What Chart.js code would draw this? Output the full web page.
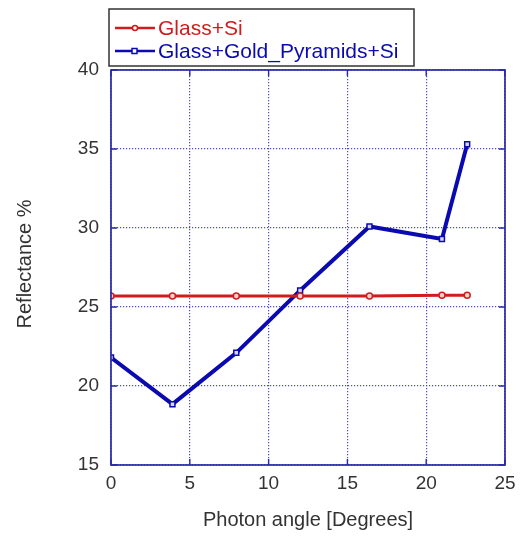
<!DOCTYPE html>
<html>
<head>
<meta charset="utf-8">
<script src="https://cdn.jsdelivr.net/npm/chart.js@4.4.1/dist/chart.umd.min.js"></script>
<style>
  html, body { margin: 0; padding: 0; background: #ffffff; }
  #wrap { width: 528px; height: 541px; position: relative; }
</style>
</head>
<body>
<div id="wrap"><canvas id="c" width="528" height="541"></canvas></div>
<script>
// Photon angle (degrees) for each measurement
const anglesGlassSi = [0, 3.9, 7.95, 12.0, 16.4, 21.0, 22.6];
const anglesPyramids = [0, 3.9, 7.95, 12.0, 16.4, 21.0, 22.6];
// Reflectance (%)
const reflGlassSi = [25.7, 25.7, 25.7, 25.7, 25.7, 25.75, 25.75];
const reflPyramids = [21.8, 18.85, 22.1, 26.05, 30.1, 29.3, 35.3];
// Axis settings
const xTicks = [0, 5, 10, 15, 20, 25];
const yTicks = [15, 20, 25, 30, 35, 40];
const seriesLabels = ['Glass+Si', 'Glass+Gold_Pyramids+Si'];
const xTitle = 'Photon angle [Degrees]';
const yTitle = 'Reflectance %';

const FONT = '"Liberation Sans", Arial, sans-serif';
const RED = '#d01c1c';
const BLUE = '#0a0ab0';
const FRAME = '#2a2aa8';
const GRID = '#4c4cc4';

function toPoints(xs, ys) { return xs.map((x, i) => ({ x: x, y: ys[i] })); }

// Frame box, inward tick marks and axis titles
const framePlugin = {
  id: 'frame',
  afterDatasetsDraw(chart) {
    const { ctx, chartArea: a, scales } = chart;
    ctx.save();
    ctx.strokeStyle = FRAME;
    ctx.lineWidth = 1.7;
    ctx.strokeRect(a.left, a.top, a.right - a.left, a.bottom - a.top);
    ctx.lineWidth = 1.4;
    const tl = 6;
    xTicks.forEach(v => {
      const px = scales.x.getPixelForValue(v);
      ctx.beginPath();
      ctx.moveTo(px, a.bottom); ctx.lineTo(px, a.bottom - tl);
      ctx.moveTo(px, a.top); ctx.lineTo(px, a.top + tl);
      ctx.stroke();
    });
    yTicks.forEach(v => {
      const py = scales.y.getPixelForValue(v);
      ctx.beginPath();
      ctx.moveTo(a.left, py); ctx.lineTo(a.left + tl, py);
      ctx.moveTo(a.right, py); ctx.lineTo(a.right - tl, py);
      ctx.stroke();
    });
    ctx.restore();
  },
  afterDraw(chart) {
    const { ctx, chartArea: a } = chart;
    ctx.save();
    ctx.fillStyle = '#333333';
    ctx.font = '20px ' + FONT;
    ctx.textAlign = 'center';
    ctx.textBaseline = 'middle';
    ctx.fillText(xTitle, (a.left + a.right) / 2, 520);
    ctx.translate(25, 264);
    ctx.rotate(-Math.PI / 2);
    ctx.fillText(yTitle, 0, 0);
    ctx.restore();
  }
};

// Boxed legend in the top-left corner
const boxLegendPlugin = {
  id: 'boxLegend',
  afterDraw(chart) {
    const { ctx } = chart;
    const ds = chart.data.datasets;
    const bx = 109, by = 9, bw = 305, bh = 57;
    ctx.save();
    ctx.fillStyle = '#ffffff';
    ctx.fillRect(bx, by, bw, bh);
    ctx.strokeStyle = '#333333';
    ctx.lineWidth = 1.5;
    ctx.strokeRect(bx, by, bw, bh);
    ctx.font = '21px ' + FONT;
    ctx.textBaseline = 'middle';
    ds.forEach((d, i) => {
      const y = 28 + i * 23;
      ctx.strokeStyle = d.borderColor;
      ctx.lineWidth = 2.5;
      ctx.beginPath();
      ctx.moveTo(115, y); ctx.lineTo(155, y);
      ctx.stroke();
      ctx.lineWidth = 1.5;
      ctx.fillStyle = '#ffffff';
      if (d.pointStyle === 'rect') {
        ctx.fillRect(132, y - 2.5, 5, 5);
        ctx.strokeRect(132, y - 2.5, 5, 5);
      } else {
        ctx.beginPath(); ctx.arc(135, y, 2.5, 0, Math.PI * 2); ctx.fill(); ctx.stroke();
      }
      ctx.fillStyle = d.borderColor;
      ctx.fillText(d.label, 158, y + 1);
    });
    ctx.restore();
  }
};

new Chart(document.getElementById('c'), {
  type: 'line',
  data: {
    datasets: [
      {
        label: seriesLabels[0],
        data: toPoints(anglesGlassSi, reflGlassSi),
        borderColor: RED,
        backgroundColor: RED,
        borderWidth: 3,
        pointStyle: 'circle',
        pointRadius: 3,
        pointBorderWidth: 1.5,
        pointBackgroundColor: '#f6d0d0',
        pointBorderColor: RED,
        tension: 0
      },
      {
        label: seriesLabels[1],
        data: toPoints(anglesPyramids, reflPyramids),
        borderColor: BLUE,
        backgroundColor: BLUE,
        borderWidth: 4,
        pointStyle: 'rect',
        pointRadius: 3.5,
        pointBorderWidth: 1.5,
        pointBackgroundColor: '#d8d8f4',
        pointBorderColor: BLUE,
        tension: 0
      }
    ]
  },
  options: {
    responsive: false,
    animation: false,
    layout: { padding: { top: 70, right: 23, left: 0, bottom: 0 } },
    plugins: { legend: { display: false }, tooltip: { enabled: false } },
    scales: {
      x: {
        type: 'linear',
        min: 0, max: 25,
        afterBuildTicks: s => { s.ticks = xTicks.map(v => ({ value: v })); },
        afterFit: s => { s.height = 76; },
        grid: { color: GRID, lineWidth: 1.2, drawTicks: false },
        border: { display: false, dash: [1.2, 1.8] },
        ticks: { color: '#333333', font: { family: FONT, size: 19 }, padding: 7, maxRotation: 0 }
      },
      y: {
        type: 'linear',
        min: 15, max: 40,
        afterBuildTicks: s => { s.ticks = yTicks.map(v => ({ value: v })); },
        afterFit: s => { s.width = 111; },
        grid: { color: GRID, lineWidth: 1.2, drawTicks: false },
        border: { display: false, dash: [1.2, 1.8] },
        ticks: { color: '#333333', font: { family: FONT, size: 19 }, padding: 12 }
      }
    }
  },
  plugins: [framePlugin, boxLegendPlugin]
});
</script>
</body>
</html>
